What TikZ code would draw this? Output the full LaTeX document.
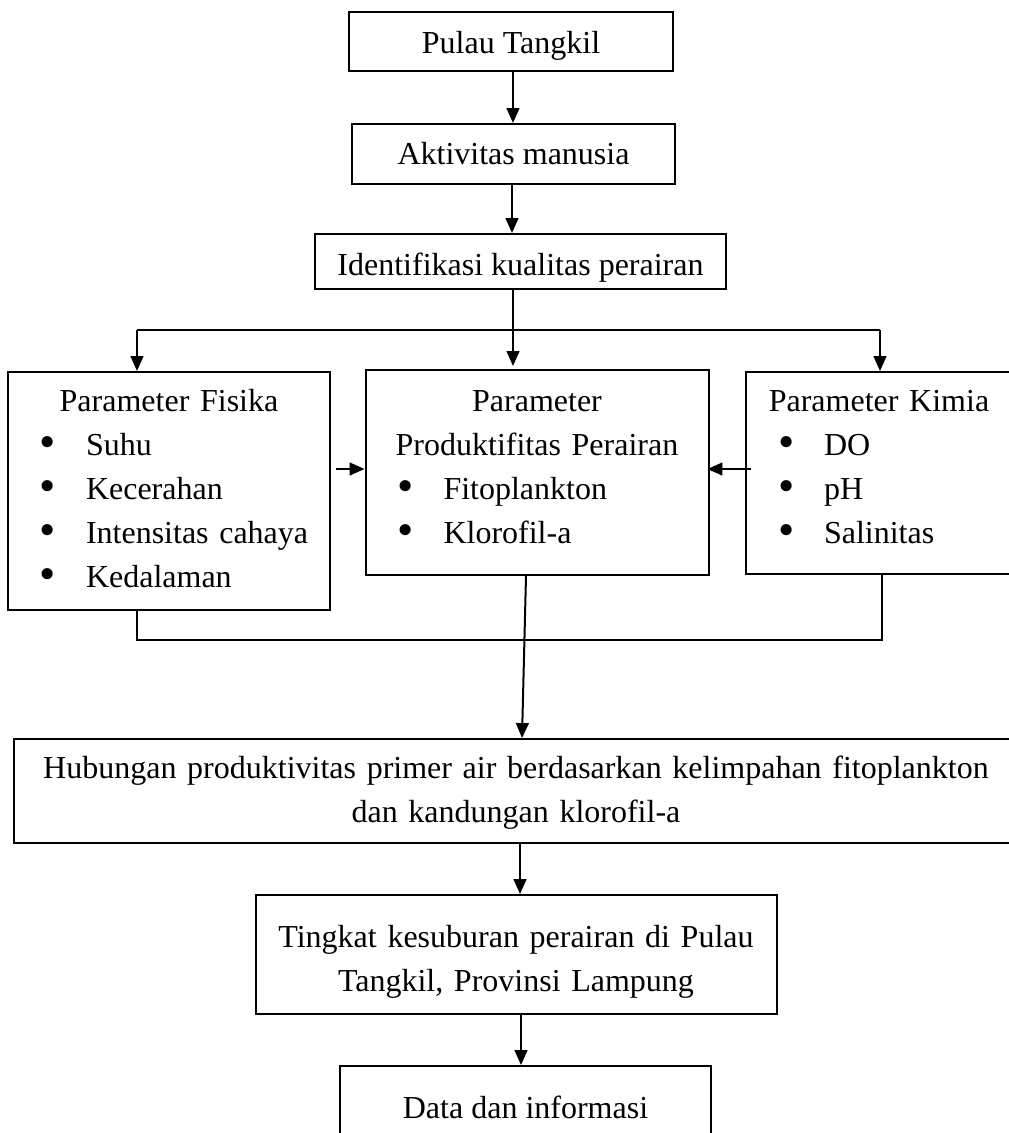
\documentclass[tikz,border=0pt]{standalone}
\usepackage{fontspec}
\setmainfont{Liberation Serif}
\usepackage{graphicx}
\usetikzlibrary{						% Bibliotheken
arrows.meta,
calc,
positioning
}
\newlength{\pix}
\setlength{\pix}{0.375pt}
\newcommand{\butir}[1]{\hspace*{32\pix}\makebox[46\pix][l]{\raisebox{-2\pix}{\scalebox{1.45}{\textbullet}}}#1}
\tikzset{
kotak_list/.style={kotak, align=left, anchor=north},
kotak_teks/.style={kotak, align=center, anchor=north}
}

\begin{document}
\begin{tikzpicture}
[x=1\pix, y=-1\pix,
kotak/.style ={rectangle, draw, line width=0.75pt, fill=white, inner sep=0pt, font=\fontsize{12}{16.5}\selectfont},
garis/.style ={draw, line width=0.75pt},
panah/.style ={draw, line width=0.75pt, -{Triangle[length=5.6pt, width=4.8pt]}}]

\useasboundingbox (0,0) rectangle (1009,1133);
\clip (0,0) rectangle (1009,1133);

%%%%%ATAS%%%%%
\node [kotak_teks, minimum width=324\pix, text height=41\pix, text depth=18\pix] (tangkil) at (511,11) {Pulau Tangkil};
\node [kotak_teks, minimum width=323\pix, text height=40\pix, text depth=20\pix] (aktivitas) at (513.5,123) {Aktivitas manusia};
\node [kotak_teks, minimum width=411\pix, text height=41\pix, text depth=14\pix] (identifikasi) at (520.5,233) {Identifikasi kualitas perairan};

%%%%%PARAMETER%%%%%
\node [kotak_list, text width=322\pix, text height=39\pix, text depth=199\pix] (fisika) at (169,371)
{{\centering Parameter Fisika\par}\butir{Suhu}\\\butir{Kecerahan}\\\butir{Intensitas cahaya}\\\butir{Kedalaman}};
\node [kotak_list, text width=343\pix, text height=41\pix, text depth=164\pix] (produktif) at (537,369)
{{\centering Parameter\\Produktifitas Perairan\par}\butir{Fitoplankton}\\\butir{Klorofil-a}};
\node [kotak_list, text width=266\pix, text height=39\pix, text depth=163\pix] (kimia) at (879,371)
{{\centering Parameter Kimia\par}\butir{DO}\\\butir{pH}\\\butir{Salinitas}};

%%%%%BAWAH%%%%%
\node [kotak_teks, text width=1004\pix, text height=39\pix, text depth=65\pix] (hubungan) at (516,738)
{Hubungan produktivitas primer air berdasarkan kelimpahan fitoplankton\\dan kandungan klorofil-a};
\node [kotak_teks, text width=521\pix, text height=52\pix, text depth=67\pix] (tingkat) at (516,894)
{Tingkat kesuburan perairan di Pulau\\Tangkil, Provinsi Lampung};
\node [kotak_teks, minimum width=371\pix, text height=52\pix, text depth=30\pix] (data) at (525.5,1065) {Data dan informasi};

%Titik cabang
\coordinate (cabang) at (513,330);
\coordinate (kiri) at (137,330);
\coordinate (kanan) at (880,330);
\coordinate (gabungkiri) at (137,640);
\coordinate (gabungkanan) at (882,640);
\coordinate (tengah) at ([yshift=3.5\pix]produktif.west);
\coordinate (tengahkanan) at ([yshift=3.5\pix]produktif.east);

%Panah atas
 \draw [panah] ([xshift=2\pix]tangkil.south) -- ([xshift=2\pix]tangkil.south |- aktivitas.north);
 \draw [panah] ([xshift=-1.5\pix]aktivitas.south) -- ([xshift=-1.5\pix]aktivitas.south |- identifikasi.north);

%Percabangan ke parameter
 \draw [garis] (cabang |- identifikasi.south) -- (cabang);
 \draw [garis] (kiri) -- (kanan);
 \draw [panah] (kiri) -- (kiri |- fisika.north);
 \draw [panah] (cabang) -- ([yshift=3\pix]cabang |- produktif.north);
 \draw [panah] (kanan) -- (kanan |- kimia.north);

%Panah samping
 \draw [panah, shorten <=5\pix] (fisika.east |- tengah) -- (tengah);
 \draw [panah, shorten <=-6\pix, shorten >=-2\pix] (kimia.west |- tengahkanan) -- (tengahkanan);

%Garis gabungan
 \draw [garis] (kiri |- fisika.south) -- (gabungkiri) -- (gabungkanan) -- (gabungkanan |- kimia.south);
 \draw [panah] ([xshift=-11\pix]produktif.south) -- ([xshift=6\pix]hubungan.north);

%Panah bawah
 \draw [panah] ([xshift=4\pix]hubungan.south) -- ([xshift=4\pix]tingkat.north);
 \draw [panah] ([xshift=5\pix]tingkat.south) -- ([xshift=5\pix]tingkat.south |- data.north);

\end{tikzpicture}
\end{document}
